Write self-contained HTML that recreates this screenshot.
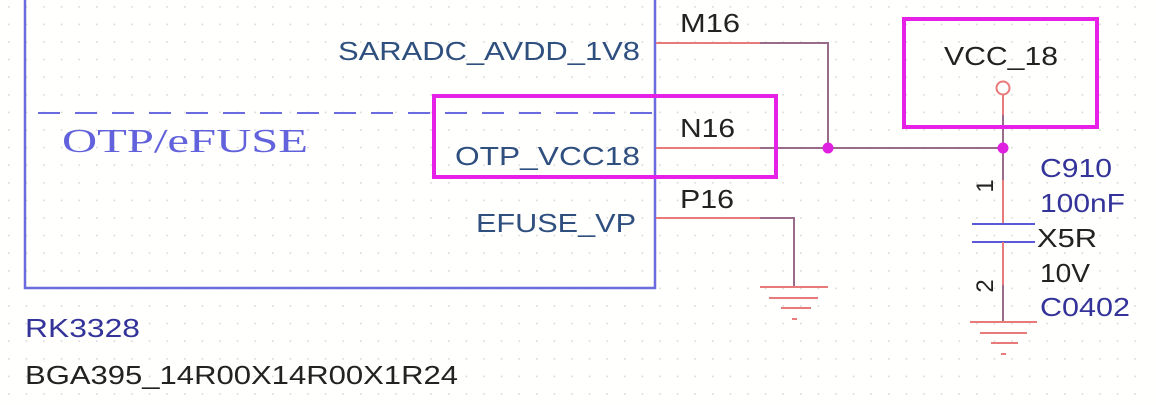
<!DOCTYPE html>
<html><head><meta charset="utf-8"><style>
html,body{margin:0;padding:0;background:#fff;}
svg{display:block}
text{font-family:"Liberation Sans",Arial,sans-serif;}
</style></head><body>
<svg width="1156" height="405" viewBox="0 0 1156 405" xmlns="http://www.w3.org/2000/svg">
<defs>
<pattern id="g" x="8" y="6" width="17.6" height="17.6" patternUnits="userSpaceOnUse">
<rect x="0" y="0" width="1.6" height="1.6" fill="#d8d8d8"/>
</pattern>
</defs>
<rect width="1156" height="405" fill="#fffffd"/>
<rect x="0" y="0" width="1140" height="395" fill="url(#g)"/>
<!-- chip -->
<polyline points="25,0 25,288 655,288 655,0" fill="none" stroke="#6b6be0" stroke-width="2.5"/>
<line x1="38" y1="113" x2="655" y2="113" stroke="#6b6be0" stroke-width="2" stroke-dasharray="22,15"/>
<text x="62" y="152" font-size="34" fill="#6262dc" textLength="246" lengthAdjust="spacingAndGlyphs" style="font-family:'Liberation Serif',serif">OTP/eFUSE</text>
<text x="338" y="60" font-size="26" fill="#2f4f7f" textLength="302" lengthAdjust="spacingAndGlyphs">SARADC_AVDD_1V8</text>
<text x="455" y="165" font-size="26" fill="#2f4f7f" textLength="185" lengthAdjust="spacingAndGlyphs">OTP_VCC18</text>
<text x="476" y="232" font-size="26" fill="#2f4f7f" textLength="160" lengthAdjust="spacingAndGlyphs">EFUSE_VP</text>
<text x="25" y="337" font-size="26" fill="#33339a" textLength="115" lengthAdjust="spacingAndGlyphs">RK3328</text>
<text x="25" y="384" font-size="26" fill="#222" textLength="433" lengthAdjust="spacingAndGlyphs">BGA395_14R00X14R00X1R24</text>
<!-- pins -->
<text x="680" y="32" font-size="26" fill="#222" textLength="60" lengthAdjust="spacingAndGlyphs">M16</text>
<text x="680" y="137" font-size="26" fill="#222" textLength="55" lengthAdjust="spacingAndGlyphs">N16</text>
<text x="680" y="208" font-size="26" fill="#222" textLength="54" lengthAdjust="spacingAndGlyphs">P16</text>
<g stroke-width="2" fill="none">
<line x1="656" y1="43" x2="760" y2="43" stroke="#e87a7a"/>
<polyline points="760,43 828,43 828,148" stroke="#9a6a8a"/>
<line x1="656" y1="148" x2="760" y2="148" stroke="#e87a7a"/>
<line x1="760" y1="148" x2="1003" y2="148" stroke="#9a6a8a"/>
<line x1="656" y1="218" x2="760" y2="218" stroke="#e87a7a"/>
<polyline points="760,218 794,218 794,287" stroke="#9a6a8a"/>
<line x1="760" y1="287" x2="828" y2="287" stroke="#e87a7a"/>
<line x1="769" y1="298" x2="818" y2="298" stroke="#e87a7a"/>
<line x1="781" y1="308" x2="811" y2="308" stroke="#e87a7a"/>
<line x1="792" y1="319" x2="797" y2="319" stroke="#e87a7a"/>
<!-- vcc -->
<circle cx="1003" cy="88" r="6.5" stroke="#e87a7a"/>
<line x1="1003" y1="95" x2="1003" y2="115" stroke="#e87a7a"/>
<line x1="1003" y1="115" x2="1003" y2="180" stroke="#9a6a8a"/>
<line x1="1003" y1="180" x2="1003" y2="224" stroke="#e87a7a"/>
<line x1="972" y1="224" x2="1035" y2="224" stroke="#5a5ad8"/>
<line x1="972" y1="242" x2="1035" y2="242" stroke="#5a5ad8"/>
<line x1="1003" y1="242" x2="1003" y2="285" stroke="#e87a7a"/>
<line x1="1003" y1="285" x2="1003" y2="322" stroke="#9a6a8a"/>
<line x1="970" y1="322" x2="1037" y2="322" stroke="#e87a7a"/>
<line x1="980" y1="333" x2="1027" y2="333" stroke="#e87a7a"/>
<line x1="991" y1="343" x2="1018" y2="343" stroke="#e87a7a"/>
<line x1="1001" y1="354" x2="1006" y2="354" stroke="#e87a7a"/>
</g>
<circle cx="828" cy="148" r="5.5" fill="#e020e0"/>
<circle cx="1003" cy="148" r="5.5" fill="#e020e0"/>
<text x="944" y="65" font-size="26" fill="#222" textLength="114" lengthAdjust="spacingAndGlyphs">VCC_18</text>
<text transform="translate(993,186) rotate(-90)" font-size="24" fill="#222" text-anchor="middle">1</text>
<text transform="translate(993,286) rotate(-90)" font-size="24" fill="#222" text-anchor="middle">2</text>
<text x="1040" y="177" font-size="26" fill="#33339a" textLength="72" lengthAdjust="spacingAndGlyphs">C910</text>
<text x="1040" y="212" font-size="26" fill="#33339a" textLength="85" lengthAdjust="spacingAndGlyphs">100nF</text>
<text x="1037" y="247" font-size="26" fill="#222" textLength="60" lengthAdjust="spacingAndGlyphs">X5R</text>
<text x="1040" y="282" font-size="26" fill="#222" textLength="50" lengthAdjust="spacingAndGlyphs">10V</text>
<text x="1040" y="316" font-size="26" fill="#33339a" textLength="90" lengthAdjust="spacingAndGlyphs">C0402</text>
<!-- highlight boxes -->
<rect x="434" y="96" width="342" height="81" fill="none" stroke="#e620e6" stroke-width="4"/>
<rect x="904" y="19" width="193" height="108" fill="none" stroke="#e620e6" stroke-width="4"/>
</svg>
</body></html>
